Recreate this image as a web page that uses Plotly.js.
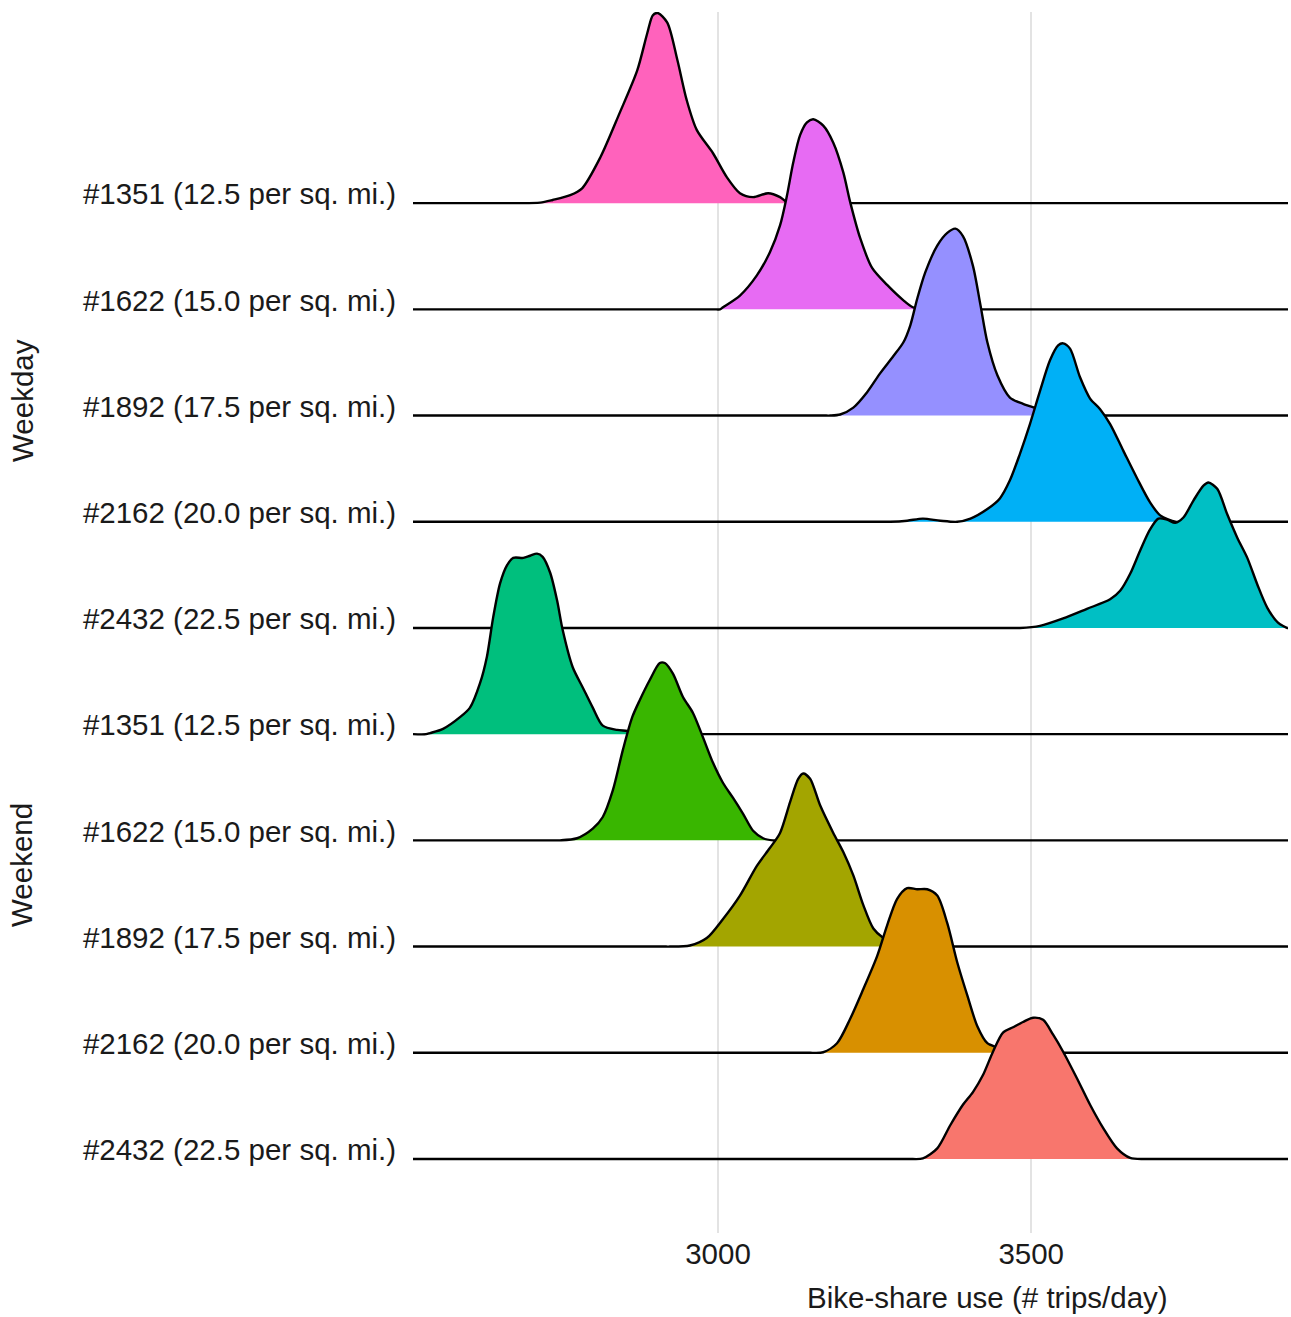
<!DOCTYPE html>
<html><head><meta charset="utf-8">
<script src="https://cdn.plot.ly/plotly-3.0.1.min.js"></script>
<style>html,body{margin:0;padding:0;background:#fff}#chart{width:1291px;height:1317px}</style>
</head><body><div id="chart"></div><script>
// Row labels, top to bottom
const rowLabels = [
  "#1351 (12.5 per sq. mi.)", "#1622 (15.0 per sq. mi.)", "#1892 (17.5 per sq. mi.)",
  "#2162 (20.0 per sq. mi.)", "#2432 (22.5 per sq. mi.)",
  "#1351 (12.5 per sq. mi.)", "#1622 (15.0 per sq. mi.)", "#1892 (17.5 per sq. mi.)",
  "#2162 (20.0 per sq. mi.)", "#2432 (22.5 per sq. mi.)"
];
const groupLabels = ["Weekday", "Weekend"];
const fillColors = ["#FF62BC", "#E76BF3", "#9590FF", "#00B0F6", "#00BFC4",
                    "#00BF7D", "#39B600", "#A3A500", "#D89000", "#F8766D"];
const xTicks = [3000, 3500];
const xTitle = "Bike-share use (# trips/day)";
const xMin = 2513, xMax = 3910;

// Density curves (trips/day, height in row units)
const wd1351_x = [2684, 2716, 2736, 2764, 2783, 2812, 2843, 2871, 2887, 2896, 2904, 2919, 2935, 2950, 2966, 2992, 3014, 3035, 3056, 3080, 3099, 3110, 3130];
const wd1351_d = [0, 0.005, 0.03, 0.075, 0.14, 0.43, 0.85, 1.25, 1.60, 1.77, 1.79, 1.70, 1.35, 0.97, 0.69, 0.47, 0.245, 0.094, 0.057, 0.094, 0.057, 0.01, 0];
const wd1622_x = [3003, 3008, 3035, 3062, 3083, 3099, 3110, 3120, 3131, 3142, 3152, 3168, 3184, 3200, 3211, 3227, 3246, 3270, 3296, 3311, 3331];
const wd1622_d = [0, 0.02, 0.13, 0.32, 0.54, 0.79, 1.07, 1.38, 1.64, 1.76, 1.79, 1.73, 1.57, 1.29, 1.01, 0.67, 0.39, 0.23, 0.085, 0.02, 0];
const wd1892_x = [3179, 3195, 3216, 3238, 3259, 3280, 3296, 3307, 3318, 3331, 3350, 3366, 3379, 3391, 3407, 3419, 3430, 3446, 3466, 3487, 3510, 3530, 3554];
const wd1892_d = [0, 0.01, 0.075, 0.22, 0.40, 0.56, 0.69, 0.85, 1.10, 1.35, 1.60, 1.72, 1.76, 1.69, 1.41, 1.04, 0.69, 0.38, 0.17, 0.11, 0.066, 0.03, 0];
const wd2162_x = [3275, 3302, 3327, 3355, 3382, 3403, 3430, 3450, 3466, 3482, 3498, 3514, 3530, 3543, 3551, 3562, 3578, 3594, 3610, 3626, 3647, 3669, 3690, 3706, 3730];
const wd2162_d = [0, 0.01, 0.03, 0.01, 0.0, 0.03, 0.12, 0.22, 0.39, 0.64, 0.92, 1.23, 1.52, 1.66, 1.68, 1.63, 1.36, 1.16, 1.06, 0.92, 0.67, 0.41, 0.18, 0.06, 0];
const wd2432_x = [3482, 3514, 3551, 3589, 3626, 3642, 3658, 3674, 3690, 3703, 3717, 3730, 3743, 3759, 3775, 3783, 3797, 3813, 3829, 3845, 3861, 3877, 3894, 3909];
const wd2432_d = [0, 0.02, 0.09, 0.18, 0.27, 0.35, 0.51, 0.73, 0.93, 1.03, 1.02, 0.99, 1.04, 1.20, 1.34, 1.37, 1.31, 1.07, 0.85, 0.66, 0.41, 0.19, 0.05, 0];
const we1351_x = [2540, 2561, 2588, 2604, 2620, 2631, 2641, 2652, 2663, 2673, 2689, 2700, 2711, 2720, 2732, 2743, 2752, 2768, 2784, 2800, 2816, 2839, 2855, 2872, 2895];
const we1351_d = [0.01, 0.05, 0.16, 0.25, 0.48, 0.73, 1.10, 1.42, 1.59, 1.66, 1.66, 1.68, 1.70, 1.67, 1.52, 1.26, 0.98, 0.63, 0.44, 0.25, 0.08, 0.04, 0.03, 0.01, 0];
const we1622_x = [2748, 2775, 2800, 2816, 2832, 2848, 2863, 2875, 2891, 2907, 2915, 2928, 2944, 2960, 2976, 2992, 3008, 3024, 3040, 3056, 3072, 3088];
const we1622_d = [0, 0.02, 0.11, 0.22, 0.47, 0.85, 1.16, 1.32, 1.51, 1.67, 1.67, 1.57, 1.35, 1.20, 0.97, 0.73, 0.54, 0.40, 0.25, 0.09, 0.02, 0];
const we1892_x = [2923, 2955, 2982, 3008, 3035, 3062, 3083, 3099, 3115, 3128, 3136, 3147, 3163, 3184, 3200, 3216, 3232, 3248, 3264, 3291];
const we1892_d = [0, 0.01, 0.08, 0.26, 0.48, 0.76, 0.93, 1.07, 1.36, 1.58, 1.63, 1.58, 1.33, 1.07, 0.89, 0.67, 0.39, 0.17, 0.08, 0];
const we2162_x = [3147, 3168, 3190, 3211, 3232, 3254, 3270, 3286, 3302, 3318, 3334, 3350, 3366, 3382, 3398, 3414, 3430, 3446, 3466];
const we2162_d = [0, 0.005, 0.09, 0.32, 0.60, 0.91, 1.20, 1.45, 1.55, 1.54, 1.54, 1.48, 1.22, 0.85, 0.54, 0.25, 0.09, 0.05, 0];
const we2432_x = [3307, 3327, 3350, 3371, 3391, 3407, 3423, 3439, 3455, 3471, 3487, 3503, 3519, 3535, 3551, 3573, 3594, 3615, 3637, 3658, 3679];
const we2432_d = [0, 0.005, 0.10, 0.32, 0.51, 0.63, 0.79, 1.01, 1.19, 1.24, 1.29, 1.33, 1.31, 1.17, 1.01, 0.76, 0.51, 0.29, 0.10, 0.01, 0];

const curvesX = [wd1351_x, wd1622_x, wd1892_x, wd2162_x, wd2432_x, we1351_x, we1622_x, we1892_x, we2162_x, we2432_x];
const curvesD = [wd1351_d, wd1622_d, wd1892_d, wd2162_d, wd2432_d, we1351_d, we1622_d, we1892_d, we2162_d, we2432_d];

// pad each curve with flat zero tails so the spline stays straight along the baseline
function padCurve(xs, ds) {
  const outX = [], outD = [];
  const first = xs[0], last = xs[xs.length - 1];
  const gap = 6;
  if (first - gap > xMin) { outX.push(xMin, first - gap); outD.push(0, 0); }
  else if (first > xMin) { outX.push(xMin); outD.push(0); }
  for (let i = 0; i < xs.length; i++) { outX.push(xs[i]); outD.push(ds[i]); }
  if (last + gap < xMax) { outX.push(last + gap, xMax); outD.push(0, 0); }
  else if (last < xMax) { outX.push(xMax); outD.push(0); }
  return [outX, outD];
}

const nRows = rowLabels.length;
const traces = [];
for (let k = 0; k < nRows; k++) {
  const base = nRows - 1 - k;
  const [xs, ds] = padCurve(curvesX[k], curvesD[k]);
  traces.push({x: [xMin, xMax], y: [base, base], mode: 'lines', line: {width: 0, color: 'rgba(0,0,0,0)'},
               hoverinfo: 'skip', showlegend: false});
  traces.push({x: xs, y: ds.map(v => base + Math.max(0, v)), mode: 'lines', fill: 'tonexty',
               fillcolor: fillColors[k], line: {color: '#000', width: 2.4, shape: 'spline', smoothing: 0.8},
               showlegend: false, name: rowLabels[k]});
}

const LABEL_NUDGE = 0.085;
const font = {family: 'Liberation Sans, Arial, sans-serif', size: 29.5, color: '#1a1a1a'};
const layout = {
  width: 1291, height: 1317,
  margin: {l: 413, r: 3, t: 12, b: 84},
  paper_bgcolor: '#fff', plot_bgcolor: '#fff',
  font: font,
  showlegend: false,
  xaxis: {range: [xMin, xMax], tickvals: xTicks, ticktext: xTicks.map(String), showgrid: true,
          gridcolor: '#e3e3e3', gridwidth: 2, zeroline: false, showline: false, ticks: '',
          tickfont: font, fixedrange: true},
  yaxis: {range: [-0.697, 10.80], tickvals: rowLabels.map((_, k) => nRows - 1 - k + LABEL_NUDGE),
          ticktext: rowLabels, showgrid: false, zeroline: false, showline: false,
          ticks: 'outside', ticklen: 10, tickcolor: 'rgba(0,0,0,0)', tickfont: font, fixedrange: true},
  annotations: [
    {text: xTitle, xref: 'paper', yref: 'paper', x: 0.656, y: -0.0532, xanchor: 'center', yanchor: 'middle',
     showarrow: false, font: font},
    {text: groupLabels[0], xref: 'paper', yref: 'paper', x: -0.4469, y: 0.6822, xanchor: 'center', yanchor: 'middle',
     textangle: -90, showarrow: false, font: font},
    {text: groupLabels[1], xref: 'paper', yref: 'paper', x: -0.4469, y: 0.3014, xanchor: 'center', yanchor: 'middle',
     textangle: -90, showarrow: false, font: font}
  ]
};
Plotly.newPlot('chart', traces, layout, {displayModeBar: false, staticPlot: true});
</script></body></html>
